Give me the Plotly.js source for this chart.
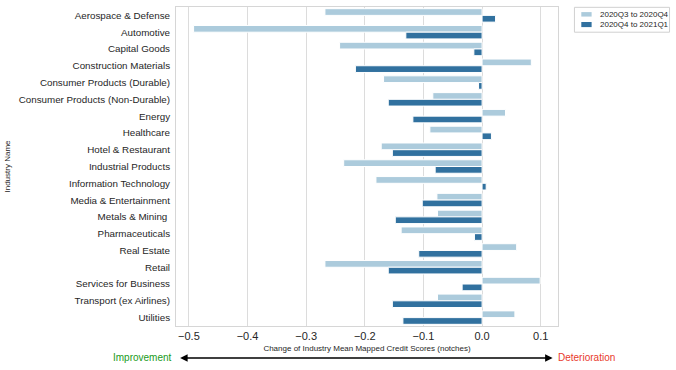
<!DOCTYPE html>
<html>
<head>
<meta charset="utf-8">
<script src="https://cdn.plot.ly/plotly-3.0.1.min.js"></script>
<style>html,body{margin:0;padding:0;background:#fff}#chart{width:676px;height:370px}</style>
</head>
<body>
<div id="chart"></div>
<script>
const industries = ["Aerospace & Defense","Automotive","Capital Goods","Construction Materials","Consumer Products (Durable)","Consumer Products (Non-Durable)","Energy","Healthcare","Hotel & Restaurant","Industrial Products","Information Technology","Media & Entertainment","Metals & Mining ","Pharmaceuticals","Real Estate","Retail","Services for Business","Transport (ex Airlines)","Utilities"];
const seriesNames = ["2020Q3 to 2020Q4","2020Q4 to 2021Q1"];
const q3toq4 = [-0.268,-0.492,-0.243,0.084,-0.168,-0.084,0.040,-0.089,-0.172,-0.236,-0.181,-0.077,-0.076,-0.138,0.059,-0.268,0.099,-0.076,0.056];
const q4toq1 = [0.023,-0.130,-0.014,-0.216,-0.006,-0.160,-0.118,0.016,-0.153,-0.080,0.007,-0.102,-0.148,-0.013,-0.108,-0.160,-0.034,-0.153,-0.135];
const xTicks = [-0.5,-0.4,-0.3,-0.2,-0.1,0.0,0.1];
const xTickText = ["\u22120.5","\u22120.4","\u22120.3","\u22120.2","\u22120.1","0.0","0.1"];
const colors = ["#accbdc","#31719f"];

const font = "Liberation Sans, Arial, sans-serif";
const traces = [
  {type:"bar", orientation:"h", name:seriesNames[0], y:industries, x:q3toq4,
   marker:{color:colors[0], line:{color:"#ffffff", width:1}}},
  {type:"bar", orientation:"h", name:seriesNames[1], y:industries, x:q4toq1,
   marker:{color:colors[1], line:{color:"#ffffff", width:1}}}
];
const legendShapes = [
  {type:"rect", xref:"paper", yref:"paper", x0:1.043, x1:1.292, y0:0.921, y1:0.999,
   line:{color:"#d0d0d0", width:1}, fillcolor:"#ffffff"},
  {type:"rect", xref:"paper", yref:"paper", x0:1.061, x1:1.088, y0:0.970, y1:0.984,
   line:{width:0}, fillcolor:colors[0]},
  {type:"rect", xref:"paper", yref:"paper", x0:1.061, x1:1.088, y0:0.937, y1:0.953,
   line:{width:0}, fillcolor:colors[1]}
];
const layout = {
  width:676, height:370,
  margin:{l:176, r:118, t:7, b:44, autoexpand:false},
  paper_bgcolor:"#fff", plot_bgcolor:"#fff",
  font:{family:font, color:"#262626"},
  barmode:"group", bargap:0.2, bargroupgap:0,
  showlegend:false,
  xaxis:{range:[-0.522,0.1295], tickvals:xTicks, ticktext:xTickText, showgrid:true, gridcolor:"#dcdcdc", gridwidth:1,
         zeroline:false, showline:true, linecolor:"#d6d6d6", mirror:true, ticks:"", automargin:false,
         tickfont:{size:11, family:font, color:"#262626"},
         title:{text:"Change of Industry Mean Mapped Credit Scores (notches)", font:{size:8, family:font, color:"#262626"}, standoff:4}},
  yaxis:{type:"category", autorange:"reversed", showgrid:false, zeroline:false, showline:true, linecolor:"#d6d6d6", mirror:true,
         ticks:"", automargin:false, ticklabelstandoff:3, tickfont:{size:9.8, family:font, color:"#262626"},
         title:{text:"Industry Name", font:{size:8, family:font, color:"#262626"}, standoff:6}},
  shapes:legendShapes,
  annotations:[
    {xref:"paper", yref:"paper", x:1.104, y:0.976, xanchor:"left", yanchor:"middle", showarrow:false,
     text:seriesNames[0], font:{size:8, family:font, color:"#262626"}},
    {xref:"paper", yref:"paper", x:1.104, y:0.945, xanchor:"left", yanchor:"middle", showarrow:false,
     text:seriesNames[1], font:{size:8, family:font, color:"#262626"}},
    {xref:"paper", yref:"paper", x:0.986, y:-0.100, ax:-374, ay:0, axref:"pixel", ayref:"pixel",
     text:"", showarrow:true, arrowside:"end+start", arrowhead:2, arrowsize:1, arrowwidth:1.5, arrowcolor:"#000"},
    {xref:"paper", yref:"paper", x:-0.004, y:-0.100, xanchor:"right", yanchor:"middle", showarrow:false,
     text:"Improvement", font:{size:10, family:font, color:"#1a9a1a"}},
    {xref:"paper", yref:"paper", x:0.996, y:-0.100, xanchor:"left", yanchor:"middle", showarrow:false,
     text:"Deterioration", font:{size:10, family:font, color:"#e8392c"}}
  ]
};
Plotly.newPlot("chart", traces, layout, {displayModeBar:false, staticPlot:true});
</script>
</body>
</html>
